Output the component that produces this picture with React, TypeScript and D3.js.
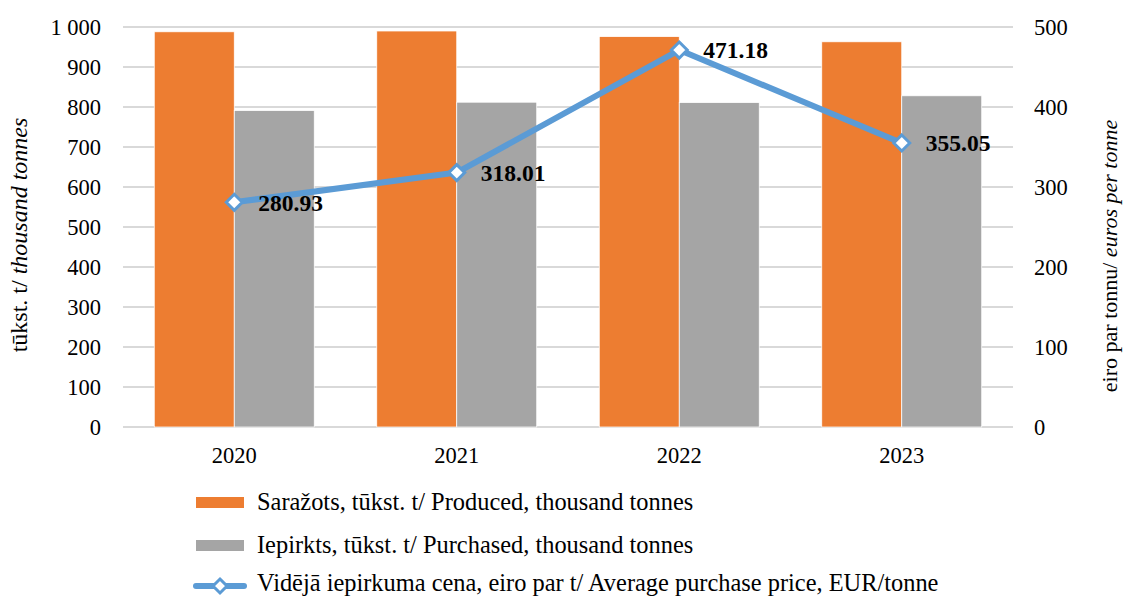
import React from "react";
import * as d3 from "d3";

const years = ["2020", "2021", "2022", "2023"];
const produced = [988, 990, 976, 963];
const purchased = [791, 812, 811, 828];
const price = [280.93, 318.01, 471.18, 355.05];
const leftTicks = [0, 100, 200, 300, 400, 500, 600, 700, 800, 900, 1000];
const rightTicks = [0, 100, 200, 300, 400, 500];
const legendLabels = [
  "Saražots, tūkst. t/ Produced, thousand tonnes",
  "Iepirkts, tūkst. t/ Purchased, thousand tonnes",
  "Vidējā iepirkuma cena, eiro par t/ Average purchase price, EUR/tonne",
];

const W = 1123;
const H = 599;
const M = { left: 123, right: 1013, top: 27, bottom: 427 };
const FONT = '"Liberation Serif", "Times New Roman", serif';
const ORANGE = "#ED7D31";
const GRAY = "#A5A5A5";
const BLUE = "#5B9BD5";
const FS = 22.5;

export default function App() {
  const x0 = d3.scaleBand().domain(years).range([M.left, M.right]).paddingInner(0.281).paddingOuter(0.1405);
  const x1 = d3.scaleBand().domain(["p", "q"]).range([0, x0.bandwidth()]);
  const yL = d3.scaleLinear().domain([0, 1000]).range([M.bottom, M.top]);
  const yR = d3.scaleLinear().domain([0, 500]).range([M.bottom, M.top]);
  const cx = (y: string) => (x0(y) as number) + x0.bandwidth() / 2;
  const line = d3
    .line<number>()
    .x((_, i) => cx(years[i]))
    .y((d) => yR(d));
  const diamond = (x: number, y: number, r: number) =>
    `M${x},${y - r}L${x + r},${y}L${x},${y + r}L${x - r},${y}Z`;

  const legendY = [502, 545, 586];
  const legendTextY = [501.5, 544.5, 582.5];

  return (
    <svg width={W} height={H} style={{ position: "absolute", left: 0, top: 0, background: "#fff", fontFamily: FONT }}>
      {leftTicks.map((t) => (
        <line key={"g" + t} x1={M.left} x2={M.right} y1={yL(t)} y2={yL(t)} stroke="#d9d9d9" strokeWidth={2} />
      ))}
      {years.map((y, i) => (
        <g key={"b" + y}>
          <rect x={(x0(y) as number) + (x1("p") as number)} y={yL(produced[i])} width={x1.bandwidth()} height={M.bottom - yL(produced[i])} fill={ORANGE} stroke="#fff" strokeWidth={0.75} />
          <rect x={(x0(y) as number) + (x1("q") as number)} y={yL(purchased[i])} width={x1.bandwidth()} height={M.bottom - yL(purchased[i])} fill={GRAY} stroke="#fff" strokeWidth={0.75} />
        </g>
      ))}
      <path d={line(price) as string} fill="none" stroke={BLUE} strokeWidth={6} strokeLinejoin="round" />
      {price.map((p, i) => (
        <g key={"m" + i}>
          <path d={diamond(cx(years[i]), yR(p), 8)} fill="#fff" stroke={BLUE} strokeWidth={3} />
          <text x={cx(years[i]) + 24} y={yR(p) + (i === 0 ? 1 : 0)} dy="0.35em" fontSize={23.5} fontWeight="bold" fill="#000">
            {p.toFixed(2)}
          </text>
        </g>
      ))}
      {leftTicks.map((t) => (
        <text key={"l" + t} x={101} y={yL(t)} dy="0.35em" textAnchor="end" fontSize={FS} fill="#000">
          {t === 1000 ? "1 000" : String(t)}
        </text>
      ))}
      {rightTicks.map((t) => (
        <text key={"r" + t} x={1034} y={yR(t)} dy="0.35em" textAnchor="start" fontSize={FS} fill="#000">
          {t}
        </text>
      ))}
      {years.map((y) => (
        <text key={"x" + y} x={cx(y)} y={463} textAnchor="middle" fontSize={FS} fill="#000">
          {y}
        </text>
      ))}
      <text transform={`translate(27,235) rotate(-90)`} textAnchor="middle" fontSize={24} fill="#000">
        tūkst. t/ <tspan fontStyle="italic">thousand tonnes</tspan>
      </text>
      <text transform={`translate(1117,256) rotate(-90)`} textAnchor="middle" fontSize={22} fill="#000">
        eiro par tonnu/ <tspan fontStyle="italic">euros per tonne</tspan>
      </text>
      {legendLabels.map((lab, i) => (
        <g key={"lg" + i}>
          {i < 2 ? (
            <rect x={196} y={legendY[i] - 5} width={48} height={11} fill={i === 0 ? ORANGE : GRAY} />
          ) : (
            <g>
              <line x1={196} x2={244} y1={legendY[i]} y2={legendY[i]} stroke={BLUE} strokeWidth={6} strokeLinecap="round" />
              <path d={diamond(220, legendY[i], 7)} fill="#fff" stroke={BLUE} strokeWidth={3} />
            </g>
          )}
          <text x={257} y={legendTextY[i]} dy="0.35em" fontSize={24.4} fill="#000">
            {lab}
          </text>
        </g>
      ))}
    </svg>
  );
}
